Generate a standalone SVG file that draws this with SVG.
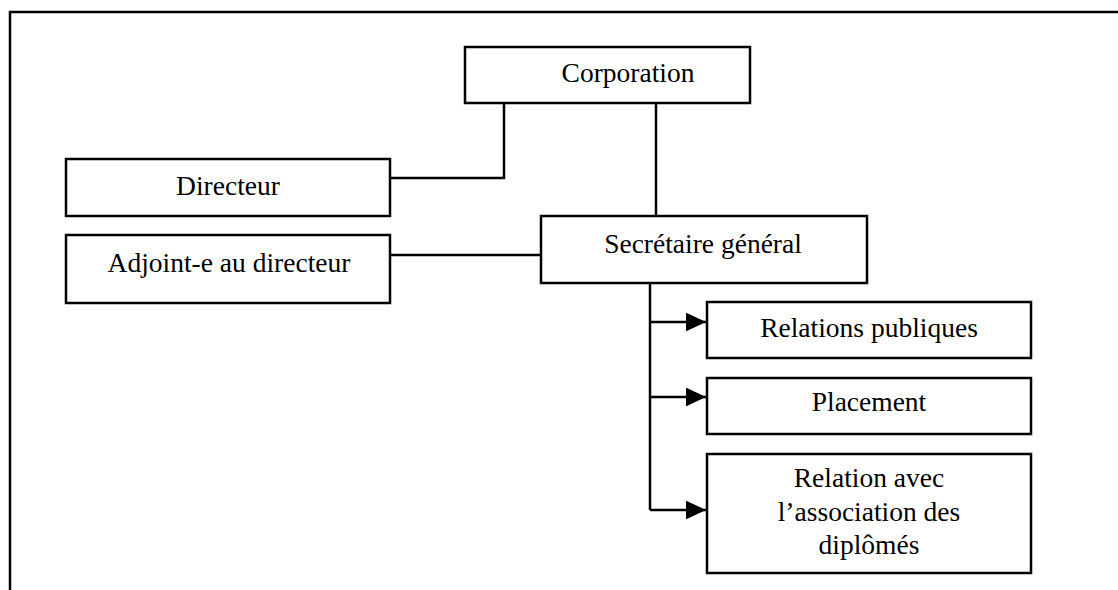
<svg xmlns="http://www.w3.org/2000/svg" width="1118" height="590" viewBox="0 0 1118 590">
<style>
.box{fill:#fff;stroke:#000;stroke-width:2.5}
.lbl{font-family:"Liberation Serif","Times New Roman",serif;font-size:27.5px;fill:#000;text-anchor:middle}
.ln{stroke:#000;stroke-width:2.5;fill:none}
</style>
<defs>
<marker id="arr" viewBox="0 0 10 10" refX="10" refY="5" markerWidth="8" markerHeight="7.5" markerUnits="strokeWidth" orient="auto" preserveAspectRatio="none">
<path d="M0,0 L10,5 L0,10 z" fill="#000"/>
</marker>
</defs>
<rect width="1118" height="590" fill="#fff"/>
<g id="frame">
<path class="ln" d="M10,590 V12 H1118"/>
</g>
<g id="connectors">
<path class="ln" d="M504,103 V178 H390"/>
<path class="ln" d="M656,103 V216"/>
<path class="ln" d="M390,255 H541"/>
<path class="ln" d="M650,283 V510"/>
<path class="ln" d="M650,322 H706" marker-end="url(#arr)"/>
<path class="ln" d="M650,397 H706" marker-end="url(#arr)"/>
<path class="ln" d="M650,510 H706" marker-end="url(#arr)"/>
</g>
<g id="corporation">
<rect class="box" x="465" y="47" width="285" height="56"/>
<text class="lbl" x="628" y="82">Corporation</text>
</g>
<g id="directeur">
<rect class="box" x="66" y="159" width="324" height="57"/>
<text class="lbl" x="228" y="195">Directeur</text>
</g>
<g id="adjoint">
<rect class="box" x="66" y="235" width="324" height="68"/>
<text class="lbl" x="229" y="272">Adjoint-e au directeur</text>
</g>
<g id="secretaire">
<rect class="box" x="541" y="216" width="326" height="67"/>
<text class="lbl" x="703" y="253">Secrétaire général</text>
</g>
<g id="relations-publiques">
<rect class="box" x="707" y="302" width="324" height="56"/>
<text class="lbl" x="869" y="337">Relations publiques</text>
</g>
<g id="placement">
<rect class="box" x="707" y="378" width="324" height="56"/>
<text class="lbl" x="869" y="411">Placement</text>
</g>
<g id="relation-association">
<rect class="box" x="707" y="454" width="324" height="119"/>
<text class="lbl" x="869" y="487">Relation avec</text>
<text class="lbl" x="869" y="521">l’association des</text>
<text class="lbl" x="869" y="554">diplômés</text>
</g>
</svg>
